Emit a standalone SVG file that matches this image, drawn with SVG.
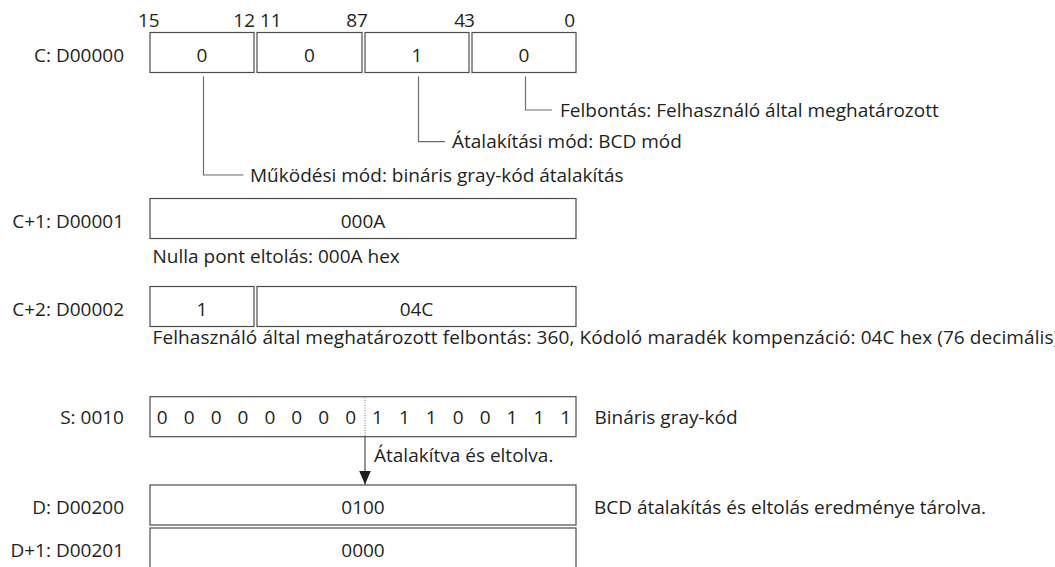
<svg xmlns="http://www.w3.org/2000/svg" width="1055" height="567" viewBox="0 0 1055 567">
  <style>
    text { font-family: "Open Sans", "Noto Sans", "Liberation Sans", sans-serif; font-size: 19px; fill: #231f20; }
    .lbl { text-anchor: end; }
    .mid { text-anchor: middle; }
    .cell { fill: #ffffff; stroke: #4d4d4d; stroke-width: 1.2; }
    .lead { fill: none; stroke: #6d6d6d; stroke-width: 1.2; }
    .dots { fill: none; stroke: #777777; stroke-width: 1; stroke-dasharray: 1 1.5; }
  </style>
  <defs>
    <!-- filled triangular head, drawn along +x so orient="auto" turns it with the line -->
    <marker id="arrowHead" viewBox="0 0 14 12" refX="14" refY="6" markerWidth="14" markerHeight="12" markerUnits="userSpaceOnUse" orient="auto">
      <path d="M0,0 L14,6 L0,12 Z" fill="#231f20"/>
    </marker>
  </defs>

  <rect width="1055" height="567" fill="#ffffff"/>

  <!-- bit position numbers -->
  <g id="bit-numbers">
    <text x="138" y="26.5">15</text>
    <text x="255" y="26.5" class="lbl">12</text>
    <text x="260" y="26.5">11</text>
    <text x="357" y="26.5" class="lbl">8</text>
    <text x="357" y="26.5">7</text>
    <text x="465" y="26.5" class="lbl">4</text>
    <text x="464" y="26.5">3</text>
    <text x="575" y="26.5" class="lbl">0</text>
  </g>

  <!-- C word: four nibble fields -->
  <g id="word-c">
    <text x="124" y="61.7" class="lbl">C: D00000</text>
    <rect class="cell" x="150" y="32.5" width="104" height="40"/>
    <rect class="cell" x="257" y="32.5" width="105" height="40"/>
    <rect class="cell" x="365" y="32.5" width="104" height="40"/>
    <rect class="cell" x="472" y="32.5" width="104" height="40"/>
    <text x="202" y="61.7" class="mid">0</text>
    <text x="309.5" y="61.7" class="mid">0</text>
    <text x="417" y="61.7" class="mid">1</text>
    <text x="524" y="61.7" class="mid">0</text>
  </g>

  <g id="note-felbontas">
    <text x="560" y="116.5">Felbontás: Felhasználó által meghatározott</text>
  </g>
  <g id="note-atalakitasi">
    <text x="452" y="148.3">Átalakítási mód: BCD mód</text>
  </g>
  <g id="note-mukodesi">
    <text x="250" y="181.5">Működési mód: bináris gray-kód átalakítás</text>
  </g>

  <!-- C+1 word -->
  <g id="word-c1">
    <text x="124" y="227.5" class="lbl">C+1: D00001</text>
    <rect class="cell" x="150" y="198.5" width="426" height="40"/>
    <text x="363" y="227.5" class="mid">000A</text>
    <text x="152.5" y="263">Nulla pont eltolás: 000A hex</text>
  </g>

  <!-- C+2 word -->
  <g id="word-c2">
    <text x="124" y="315.5" class="lbl">C+2: D00002</text>
    <rect class="cell" x="150" y="286.5" width="104" height="40"/>
    <rect class="cell" x="257" y="286.5" width="319" height="40"/>
    <text x="202" y="315.5" class="mid">1</text>
    <text x="416.5" y="315.5" class="mid">04C</text>
    <text x="152.5" y="344" letter-spacing="0.09">Felhasználó által meghatározott felbontás: 360, Kódoló maradék kompenzáció: 04C hex (76 decimális)</text>
  </g>

  <!-- S word: source bits -->
  <g id="word-s">
    <text x="124" y="424" class="lbl">S: 0010</text>
    <rect class="cell" x="150" y="396.7" width="426" height="40"/>
    <line class="dots" x1="365" y1="397.5" x2="365" y2="436.5"/>
    <g class="mid">
      <text x="162.3" y="424">0</text>
      <text x="189.2" y="424">0</text>
      <text x="216.1" y="424">0</text>
      <text x="243" y="424">0</text>
      <text x="269.9" y="424">0</text>
      <text x="296.8" y="424">0</text>
      <text x="323.7" y="424">0</text>
      <text x="350.6" y="424">0</text>
      <text x="377.5" y="424">1</text>
      <text x="404.4" y="424">1</text>
      <text x="431.3" y="424">1</text>
      <text x="458.2" y="424">0</text>
      <text x="485.1" y="424">0</text>
      <text x="512" y="424">1</text>
      <text x="538.9" y="424">1</text>
      <text x="565.8" y="424">1</text>
    </g>
    <text x="594.5" y="424">Bináris gray-kód</text>
  </g>

  <g id="note-conversion">
    <text x="374" y="461.5">Átalakítva és eltolva.</text>
  </g>

  <!-- D words: result -->
  <g id="word-d">
    <text x="124" y="514.3" class="lbl">D: D00200</text>
    <rect class="cell" x="150" y="485" width="426" height="40"/>
    <text x="363" y="514.3" class="mid">0100</text>
    <text x="594" y="514.3">BCD átalakítás és eltolás eredménye tárolva.</text>
  </g>
  <g id="word-d1">
    <text x="124" y="557.3" class="lbl">D+1: D00201</text>
    <rect class="cell" x="150" y="528" width="426" height="40"/>
    <text x="363" y="557.3" class="mid">0000</text>
  </g>

  <!-- connectors -->
  <g id="connectors">
    <path class="lead" d="M525.5,76.5 V110 H552"/>
    <path class="lead" d="M418.5,76.5 V141.7 H445"/>
    <path class="lead" d="M203.5,76.5 V175 H243.5"/>
    <line x1="365" y1="436.7" x2="365" y2="484.5" stroke="#4d4d4d" stroke-width="1.2" marker-end="url(#arrowHead)"/>
  </g>
</svg>
